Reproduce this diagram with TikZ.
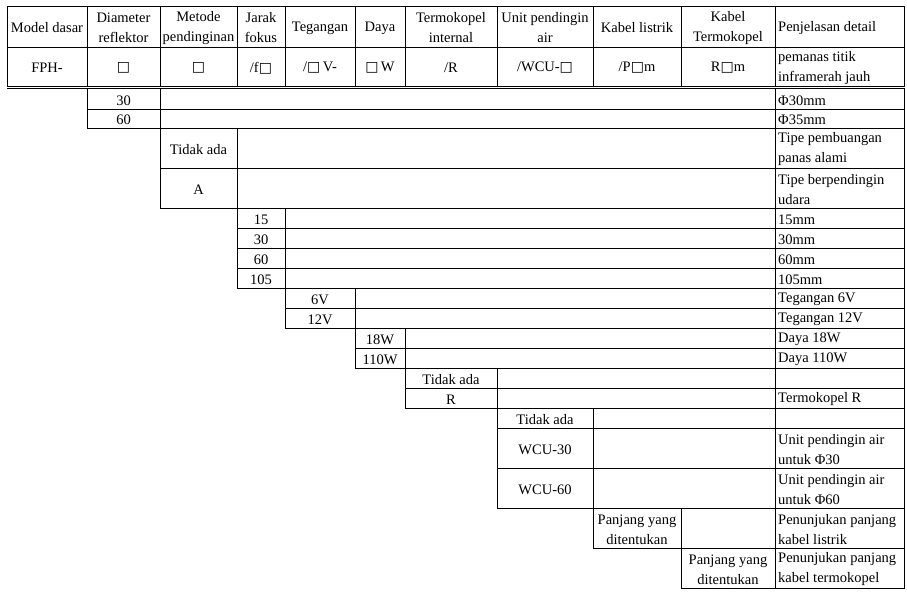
\documentclass[tikz,border=0pt]{standalone}
\usepackage{fontspec}
\setmainfont{Liberation Serif}
\newfontfamily\boxfont{DejaVu Sans}
\newcommand\bx{{\boxfont\fontsize{14}{20}\selectfont □}}
\tikzset{
  grid/.style={line width=0.9pt, line cap=rect},
  opt/.style={align=center, inner sep=0pt, yshift=-1.5pt},
  desc/.style={anchor=west, align=left, inner sep=0pt, yshift=-1.5pt},
  every node/.style={font=\fontsize{14.5}{20}\selectfont},
}
\newcommand\tabrow[7]{%
  \draw[grid] (#2,#4) rectangle (904,#5);
  \draw[grid] (#3,#4) -- (#3,#5) (775,#4) -- (775,#5);
  \node[opt] (o#1) at ({(#2+#3)/2},{(#4+#5)/2}) {#6};
  \node[desc] (d#1) at (778,{(#4+#5)/2}) {#7};
}
\begin{document}
\begin{tikzpicture}[x=1pt,y=-1pt]
\useasboundingbox (0,0) rectangle (907,598);
% header frame
\draw[grid] (7,6) rectangle (904,86);
\draw[grid] (7,47) -- (904,47);
\draw[grid] (7,88.5) -- (904,88.5);
\foreach \c in {87,160,237,285,355,405,497,593,681,775}
  \draw[grid] (\c,6) -- (\c,86);
% header texts
\node[opt] (h1) at (47,26.5) {Model dasar};
\node[opt] (h2) at (123.5,26.5) {Diameter\\reflektor};
\node[opt] (h3) at (198.5,26.5) {Metode\\pendinginan};
\node[opt] (h4) at (261,26.5) {Jarak\\fokus};
\node[opt] (h5) at (320,26.5) {Tegangan};
\node[opt] (h6) at (380,26.5) {Daya};
\node[opt] (h7) at (451,26.5) {Termokopel\\internal};
\node[opt] (h8) at (545,26.5) {Unit pendingin\\air};
\node[opt] (h9) at (637,26.5) {Kabel listrik};
\node[opt] (h10) at (728,26.5) {Kabel\\Termokopel};
\node[desc] (h11) at (778,26.5) {Penjelasan detail};
% code row
\node[opt] (v1) at (47,66.5) {FPH-};
\node[opt] (v2) at (123.5,66.5) {\bx};
\node[opt] (v3) at (198.5,66.5) {\bx};
\node[opt] (v4) at (261,66.5) {/f\bx};
\node[opt] (v5) at (320,66.5) {/\bx\,V-};
\node[opt] (v6) at (380,66.5) {\bx\,W};
\node[opt] (v7) at (451,66.5) {/R};
\node[opt] (v8) at (545,66.5) {/WCU-\bx};
\node[opt] (v9) at (637,66.5) {/P\bx m};
\node[opt] (v10) at (728,66.5) {R\bx m};
\node[desc] (v11) at (778,66.5) {pemanas titik\\inframerah jauh};
% option rows
\tabrow{1}{87}{160}{88.5}{109}{30}{Φ30mm}
\tabrow{2}{87}{160}{109}{128}{60}{Φ35mm}
\tabrow{3}{160}{237}{128}{168}{Tidak ada}{Tipe pembuangan\\panas alami}
\tabrow{4}{160}{237}{168}{208}{A}{Tipe berpendingin\\udara}
\tabrow{5}{237}{285}{208}{228}{15}{15mm}
\tabrow{6}{237}{285}{228}{248}{30}{30mm}
\tabrow{7}{237}{285}{248}{268}{60}{60mm}
\tabrow{8}{237}{285}{268}{288}{105}{105mm}
\tabrow{9}{285}{355}{288}{308}{6V}{Tegangan 6V}
\tabrow{10}{285}{355}{308}{328}{12V}{Tegangan 12V}
\tabrow{11}{355}{405}{328}{348}{18W}{Daya 18W}
\tabrow{12}{355}{405}{348}{368}{110W}{Daya 110W}
\tabrow{13}{405}{497}{368}{388}{Tidak ada}{}
\tabrow{14}{405}{497}{388}{408}{R}{Termokopel R}
\tabrow{15}{497}{593}{408}{428}{Tidak ada}{}
\tabrow{16}{497}{593}{428}{468}{WCU-30}{Unit pendingin air\\untuk Φ30}
\tabrow{17}{497}{593}{468}{508}{WCU-60}{Unit pendingin air\\untuk Φ60}
\tabrow{18}{593}{681}{508}{548}{Panjang yang\\ditentukan}{Penunjukan panjang\\kabel listrik}
\tabrow{19}{681}{775}{548}{588}{Panjang yang\\ditentukan}{Penunjukan panjang\\kabel termokopel}
\end{tikzpicture}
\end{document}
